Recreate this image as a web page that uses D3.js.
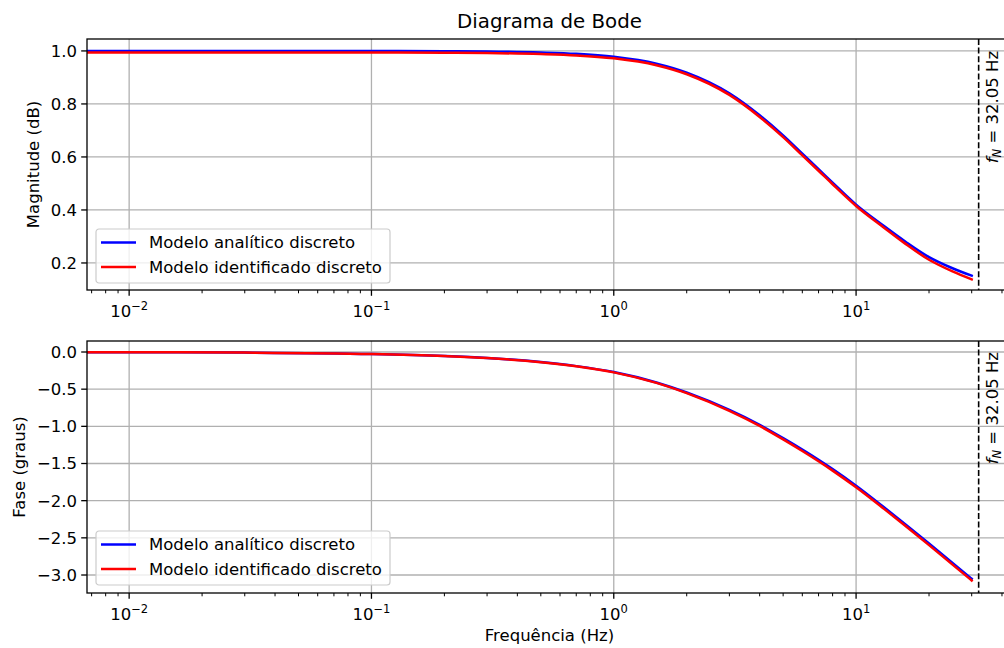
<!DOCTYPE html>
<html>
<head>
<meta charset="utf-8">
<script src="https://cdn.jsdelivr.net/npm/d3@7"></script>
<style>
  body { margin: 0; background: #fff; }
  text { font-family: "DejaVu Sans", sans-serif; fill: #000; }
</style>
</head>
<body>
<svg id="chart" width="1004" height="648"></svg>
<script>
// frequencies (Hz)
const freqs = [0.0067, 0.01, 0.03, 0.1, 0.2, 0.3, 0.5, 0.7, 1, 1.5, 2, 3, 4, 5, 6, 7, 8, 10, 13, 16, 20, 25, 30];

// magnitude
const magAnalitico = [1.0, 1.0, 1.0, 1.0, 0.999, 0.998, 0.994, 0.989, 0.978, 0.952, 0.918, 0.84, 0.757, 0.681, 0.612, 0.554, 0.503, 0.42, 0.34, 0.28, 0.222, 0.18, 0.152];
const magIdentificado = [0.994, 0.994, 0.994, 0.994, 0.993, 0.992, 0.988, 0.983, 0.972, 0.946, 0.912, 0.834, 0.751, 0.675, 0.606, 0.548, 0.497, 0.415, 0.334, 0.272, 0.212, 0.168, 0.138];

// phase
const faseAnalitico = [-0.002, -0.003, -0.008, -0.027, -0.054, -0.08, -0.135, -0.19, -0.27, -0.41, -0.545, -0.78, -0.98, -1.159, -1.313, -1.45, -1.575, -1.798, -2.085, -2.319, -2.576, -2.838, -3.051];
const faseIdentificado = [-0.002, -0.003, -0.008, -0.027, -0.055, -0.081, -0.137, -0.193, -0.274, -0.416, -0.553, -0.792, -0.995, -1.176, -1.332, -1.47, -1.596, -1.82, -2.107, -2.341, -2.598, -2.86, -3.073];

const fNyquist = 32.05;
const magTicks = [0.2, 0.4, 0.6, 0.8, 1.0];
const faseTicks = [0.0, -0.5, -1.0, -1.5, -2.0, -2.5, -3.0];
const xMajor = [-2, -1, 0, 1];
const seriesNames = ["Modelo analítico discreto", "Modelo identificado discreto"];
const seriesColors = ["#0000ff", "#ff0000"];

const svg = d3.select("#chart");
const left = 87, right = 1012;
const x = d3.scaleLog().domain([0.0067, 44]).range([left, right]);

const minorTicks = [];
for (let e = -3; e <= 1; e++) {
  for (let m = 2; m <= 9; m++) {
    const v = m * Math.pow(10, e);
    if (v >= x.domain()[0] && v <= x.domain()[1]) minorTicks.push(v);
  }
}

function panel(opts) {
  const { top, bottom, yDomain, yTicks, fmt, series, ylabel, ylabelX, clipId, legendTop } = opts;
  const y = d3.scaleLinear().domain(yDomain).range([bottom, top]);
  const g = svg.append("g");

  g.append("clipPath").attr("id", clipId)
    .append("rect").attr("x", left).attr("y", top).attr("width", right - left).attr("height", bottom - top);

  // grid
  g.selectAll(".gx").data(xMajor).join("line")
    .attr("x1", d => x(Math.pow(10, d))).attr("x2", d => x(Math.pow(10, d)))
    .attr("y1", top).attr("y2", bottom)
    .attr("stroke", "#b0b0b0").attr("stroke-width", 1.3);
  g.selectAll(".gy").data(yTicks).join("line")
    .attr("x1", left).attr("x2", right)
    .attr("y1", d => y(d)).attr("y2", d => y(d))
    .attr("stroke", "#b0b0b0").attr("stroke-width", 1.3);

  // curves
  const line = d3.line().x((d, i) => x(freqs[i])).y(d => y(d)).curve(d3.curveMonotoneX);
  g.append("g").attr("clip-path", `url(#${clipId})`)
    .selectAll("path").data(series).join("path")
    .attr("d", d => line(d))
    .attr("fill", "none")
    .attr("stroke", (d, i) => seriesColors[i])
    .attr("stroke-width", 2.5)
    .attr("stroke-linecap", "square");

  // nyquist line
  g.append("line")
    .attr("x1", x(fNyquist)).attr("x2", x(fNyquist))
    .attr("y1", top).attr("y2", bottom)
    .attr("stroke", "#000").attr("stroke-width", 1.6)
    .attr("stroke-dasharray", "6,2.6");

  const tlabel = g.append("text")
    .attr("transform", `translate(${x(fNyquist) + 19},${y(yDomain[1] > 0.5 ? 1.0 : 0.0)}) rotate(-90)`)
    .attr("text-anchor", "end")
    .attr("font-size", 16.5);
  tlabel.append("tspan").attr("font-style", "italic").text("f");
  tlabel.append("tspan").attr("font-style", "italic").attr("font-size", 11.5).attr("dy", 3.5).text("N");
  tlabel.append("tspan").attr("dy", -3.5).text(" = 32.05 Hz");

  // spines
  g.append("rect").attr("x", left).attr("y", top).attr("width", right - left).attr("height", bottom - top)
    .attr("fill", "none").attr("stroke", "#000").attr("stroke-width", 1.3);

  // y ticks
  const yt = g.selectAll(".yt").data(yTicks).join("g").attr("transform", d => `translate(${left},${y(d)})`);
  yt.append("line").attr("x1", -5.8).attr("x2", 0).attr("stroke", "#000").attr("stroke-width", 1.3);
  yt.append("text").attr("x", -10).attr("dy", "0.36em").attr("text-anchor", "end")
    .attr("font-size", 16.5).text(d => fmt(d));

  // x ticks
  g.selectAll(".xm").data(minorTicks).join("line")
    .attr("x1", d => x(d)).attr("x2", d => x(d))
    .attr("y1", bottom).attr("y2", bottom + 3.3)
    .attr("stroke", "#000").attr("stroke-width", 1);
  const xt = g.selectAll(".xt").data(xMajor).join("g")
    .attr("transform", d => `translate(${x(Math.pow(10, d))},${bottom})`);
  xt.append("line").attr("y1", 0).attr("y2", 5.8).attr("stroke", "#000").attr("stroke-width", 1.3);
  const lbl = xt.append("text").attr("y", 27).attr("text-anchor", "middle").attr("font-size", 16.5);
  lbl.append("tspan").text("10");
  lbl.append("tspan").attr("font-size", 11.5).attr("dy", -7.5).text(d => d < 0 ? "\u2212" + (-d) : String(d));

  // y label
  g.append("text")
    .attr("transform", `translate(${ylabelX},${(top + bottom) / 2}) rotate(-90)`)
    .attr("text-anchor", "middle").attr("font-size", 16.5).text(ylabel);

  // legend
  const lg = g.append("g").attr("transform", `translate(96,${legendTop})`);
  lg.append("rect").attr("width", 294).attr("height", 54).attr("rx", 3)
    .attr("fill", "#fff").attr("fill-opacity", 0.8)
    .attr("stroke", "#cccccc").attr("stroke-width", 1.2);
  seriesNames.forEach((name, i) => {
    const row = lg.append("g").attr("transform", `translate(0,${13.5 + i * 24.5})`);
    row.append("line").attr("x1", 5).attr("x2", 40).attr("stroke", seriesColors[i]).attr("stroke-width", 2.5);
    row.append("text").attr("x", 53).attr("dy", "0.36em").attr("font-size", 16.5).text(name);
  });
}

panel({
  top: 39, bottom: 290, yDomain: [0.098, 1.045], yTicks: magTicks, fmt: d3.format(".1f"),
  series: [magAnalitico, magIdentificado], ylabel: "Magnitude (dB)", ylabelX: 39,
  clipId: "clipMag", legendTop: 229
});

panel({
  top: 341, bottom: 593, yDomain: [-3.242, 0.148], yTicks: faseTicks, fmt: d => d3.format(".1f")(d).replace("-", "\u2212"),
  series: [faseAnalitico, faseIdentificado], ylabel: "Fase (graus)", ylabelX: 25,
  clipId: "clipFase", legendTop: 531
});

svg.append("text").attr("x", (left + right) / 2).attr("y", 28)
  .attr("text-anchor", "middle").attr("font-size", 19.8).text("Diagrama de Bode");
svg.append("text").attr("x", (left + right) / 2).attr("y", 641)
  .attr("text-anchor", "middle").attr("font-size", 16.5).text("Frequência (Hz)");
</script>
</body>
</html>
